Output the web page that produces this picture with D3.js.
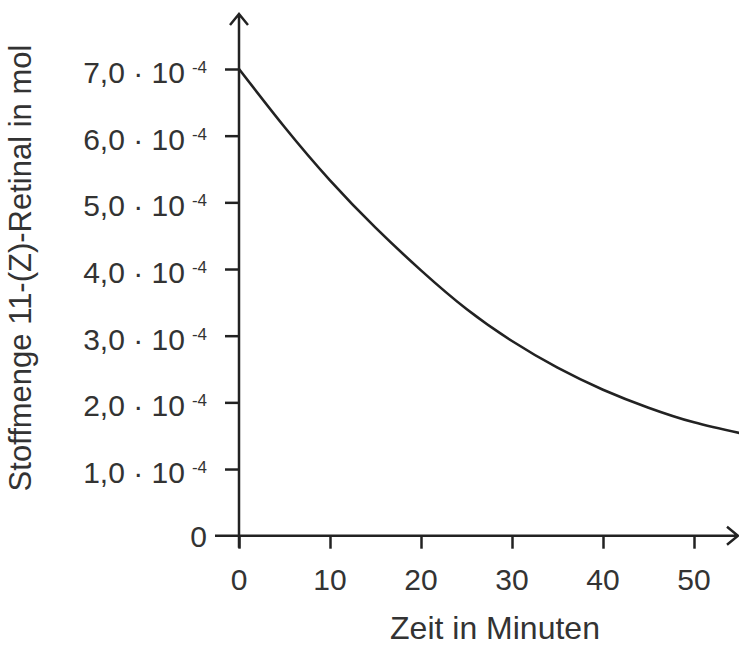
<!DOCTYPE html>
<html>
<head>
<meta charset="utf-8">
<script src="https://cdn.jsdelivr.net/npm/d3@7"></script>
<style>
  html, body { margin: 0; padding: 0; background: #fff; }
  svg { display: block; }
  text { font-family: "Liberation Sans", Arial, sans-serif; fill: #333; }
</style>
</head>
<body>
<script>
// Data (values in 10^-4 mol)
const times = [0, 5, 10, 15, 20, 25, 30, 35, 40, 45, 50, 55];
const amounts = [7.0, 6.13, 5.33, 4.62, 3.98, 3.40, 2.92, 2.52, 2.19, 1.92, 1.70, 1.54];
const xTicks = [0, 10, 20, 30, 40, 50];
const yTicks = [1, 2, 3, 4, 5, 6, 7];
const yTickLabels = ["1,0", "2,0", "3,0", "4,0", "5,0", "6,0", "7,0"];
const xTitle = "Zeit in Minuten";
const yTitle = "Stoffmenge 11-(Z)-Retinal in mol";

const W = 739, H = 646;
const svg = d3.select("body").append("svg").attr("width", W).attr("height", H);

const x = d3.scaleLinear().domain([0, 50]).range([239, 694]);
const y = d3.scaleLinear().domain([0, 7]).range([535.7, 69]);

const ink = "#222";

// tick marks via axes
const xAxis = d3.axisBottom(x).tickValues(xTicks).tickSize(13).tickFormat("");
const gx = svg.append("g").attr("transform", `translate(0,${y(0)})`).call(xAxis);
gx.select(".domain").remove();
gx.selectAll(".tick line").attr("stroke", ink).attr("stroke-width", 2.5);

const yAxis = d3.axisLeft(y).tickValues(yTicks).tickSize(14).tickFormat("");
const gy = svg.append("g").attr("transform", `translate(${x(0)},0)`).call(yAxis);
gy.select(".domain").remove();
gy.selectAll(".tick line").attr("stroke", ink).attr("stroke-width", 2.5);

// axis lines with open arrowheads
const x0 = x(0), y0 = y(0);
const yTop = 14, xRight = 738;
svg.append("path")
  .attr("d", `M${x0},${y0 + 12}V${yTop} M${x0 - 9},${yTop + 11}L${x0},${yTop}L${x0 + 9},${yTop + 11}`)
  .attr("fill", "none").attr("stroke", ink).attr("stroke-width", 2.5);
svg.append("path")
  .attr("d", `M${x0 - 24},${y0}H${xRight} M${xRight - 11},${y0 - 9}L${xRight},${y0}L${xRight - 11},${y0 + 9}`)
  .attr("fill", "none").attr("stroke", ink).attr("stroke-width", 2.5);

// curve
const pts = times.map((t, i) => [t, amounts[i]]);
svg.append("path")
  .datum(pts)
  .attr("fill", "none").attr("stroke", ink).attr("stroke-width", 2.6)
  .attr("d", d3.line().x(d => x(d[0])).y(d => y(d[1])).curve(d3.curveNatural));

// x tick labels
svg.append("g").selectAll("text").data(xTicks).join("text")
  .attr("x", d => x(d)).attr("y", 590)
  .attr("text-anchor", "middle").attr("font-size", 30)
  .text(d => d);

// y tick labels
const yl = svg.append("g").selectAll("text").data(yTicks).join("text")
  .attr("x", 207).attr("y", d => y(d) + 14)
  .attr("text-anchor", "end").attr("font-size", 30);
yl.append("tspan").text((d, i) => yTickLabels[i] + " \u00B7 10");
yl.append("tspan").attr("dx", 7).attr("dy", -10).attr("font-size", 17).text("-4");
svg.append("text").attr("x", 207).attr("y", y(0) + 11)
  .attr("text-anchor", "end").attr("font-size", 30).text("0");

// titles
svg.append("text").attr("x", 495).attr("y", 639)
  .attr("text-anchor", "middle").attr("font-size", 32).text(xTitle);
svg.append("text")
  .attr("transform", `translate(31,268) rotate(-90)`)
  .attr("text-anchor", "middle").attr("font-size", 31).text(yTitle);
</script>
</body>
</html>
